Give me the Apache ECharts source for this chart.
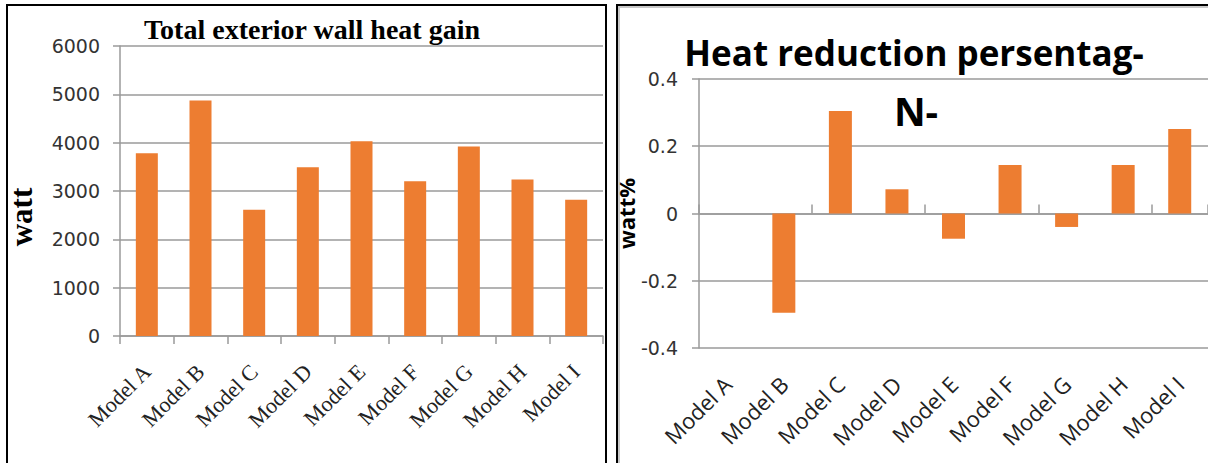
<!DOCTYPE html>
<html>
<head>
<meta charset="utf-8">
<script src="https://cdn.jsdelivr.net/npm/echarts@6/dist/echarts.min.js"></script>
<style>
  html, body { margin: 0; padding: 0; background: #fff; overflow: hidden; }
  #frameLeft { position: absolute; left: 6px; top: 4px; width: 601px; height: 480px;
               border: 2px solid #000; border-bottom: none; box-sizing: border-box; }
  #frameRight { position: absolute; left: 616px; top: 4px; width: 620px; height: 480px;
                border: 2px solid #000; border-bottom: none; box-sizing: border-box;
                box-shadow: inset 2px 2px 0 #c8c8c8; }
  #chart { position: absolute; left: 0; top: 0; width: 1208px; height: 463px; }
</style>
</head>
<body>
<div id="frameLeft"></div>
<div id="frameRight"></div>
<div id="chart"></div>
<script>
// Categories shared by both panels
const models = ['Model A', 'Model B', 'Model C', 'Model D', 'Model E',
                'Model F', 'Model G', 'Model H', 'Model I'];

// Total exterior wall heat gain (watt)
const heatGain = [3780, 4870, 2610, 3490, 4030, 3200, 3920, 3240, 2820];

// Heat reduction relative to Model A (fraction)
const reduction = [0, -0.295, 0.305, 0.072, -0.075, 0.144, -0.04, 0.144, 0.251];

// Value axis ranges
const gainAxis = { min: 0, max: 6000, interval: 1000 };
const reductionAxis = { min: -0.4, max: 0.4, interval: 0.2 };

const BAR = '#ED7D31';
const GRID_LINE = '#9a9a9a';
const SERIF = "'Liberation Serif', 'Times New Roman', serif";
const SANS = 'Open Sans';
const TICK_FONT = 'DejaVu Sans';

const chart = echarts.init(document.getElementById('chart'), null, { renderer: 'svg' });

chart.setOption({
  backgroundColor: 'transparent',
  animation: false,
  title: [
    {
      text: 'Total exterior wall heat gain',
      left: 307, top: 10, textAlign: 'center',
      textStyle: { fontFamily: SERIF, fontWeight: 'bold', fontSize: 28, color: '#000' }
    },
    {
      text: 'Heat reduction persentag-',
      left: 909, top: 30, textAlign: 'center',
      textStyle: { fontFamily: SANS, fontWeight: 'bold', fontSize: 35, color: '#000' }
    },
    {
      text: 'N-',
      left: 911, top: 86, textAlign: 'center',
      textStyle: { fontFamily: SANS, fontWeight: 'bold', fontSize: 39, color: '#000' }
    }
  ],
  grid: [
    { left: 120, top: 46, width: 483, height: 290, containLabel: false },
    { left: 699, top: 79, width: 514, height: 269, containLabel: false }
  ],
  xAxis: [
    {
      gridIndex: 0, type: 'category', data: models,
      axisLine: { lineStyle: { color: GRID_LINE, width: 1.5 } },
      axisTick: { show: true, length: 8, lineStyle: { color: GRID_LINE, width: 1.5 } },
      axisLabel: { rotate: 45, margin: 32, fontFamily: SERIF, fontSize: 22, color: '#222' }
    },
    {
      gridIndex: 1, type: 'category', data: models, position: 'bottom',
      axisLine: { show: false, onZero: false },
      axisTick: { show: false },
      axisLabel: { rotate: 45, margin: 32, fontFamily: SANS, fontSize: 22, color: '#222' }
    },
    {
      gridIndex: 1, type: 'category', data: models, position: 'top',
      axisLine: { show: true, onZero: true, lineStyle: { color: GRID_LINE, width: 1.5 } },
      axisTick: { show: true, length: 9, lineStyle: { color: GRID_LINE, width: 1.5 } },
      axisLabel: { show: false }
    }
  ],
  yAxis: [
    {
      gridIndex: 0, type: 'value',
      min: gainAxis.min, max: gainAxis.max, interval: gainAxis.interval,
      name: 'watt', nameLocation: 'middle', nameRotate: 90, nameGap: 83,
      nameTextStyle: { fontFamily: SERIF, fontWeight: 'bold', fontSize: 31, color: '#000',
                       padding: [0, 52, 0, 0] },
      axisLine: { show: true, lineStyle: { color: GRID_LINE, width: 1.5 } },
      axisTick: { show: true, length: 7, lineStyle: { color: GRID_LINE, width: 1.5 } },
      splitLine: { lineStyle: { color: GRID_LINE, width: 1.5 } },
      axisLabel: { margin: 20, fontFamily: TICK_FONT, fontSize: 19, color: '#333',
                   formatter: v => String(v) }
    },
    {
      gridIndex: 1, type: 'value',
      min: reductionAxis.min, max: reductionAxis.max, interval: reductionAxis.interval,
      name: 'watt%', nameLocation: 'middle', nameRotate: 90, nameGap: 51,
      nameTextStyle: { fontFamily: SANS, fontWeight: 'bold', fontSize: 22, color: '#000' },
      axisLine: { show: true, lineStyle: { color: GRID_LINE, width: 1.5 } },
      axisTick: { show: true, length: 7, lineStyle: { color: GRID_LINE, width: 1.5 } },
      splitLine: { lineStyle: { color: GRID_LINE, width: 1.5 } },
      axisLabel: { margin: 21, fontFamily: TICK_FONT, fontSize: 19, color: '#333',
                   formatter: v => String(Math.round(v * 10) / 10) }
    }
  ],
  series: [
    {
      name: 'Total exterior wall heat gain', type: 'bar',
      xAxisIndex: 0, yAxisIndex: 0, data: heatGain,
      barWidth: 22, itemStyle: { color: BAR }
    },
    {
      name: 'Heat reduction persentage', type: 'bar',
      xAxisIndex: 1, yAxisIndex: 1, data: reduction,
      barWidth: 23, itemStyle: { color: BAR }
    }
  ]
});
</script>
</body>
</html>
